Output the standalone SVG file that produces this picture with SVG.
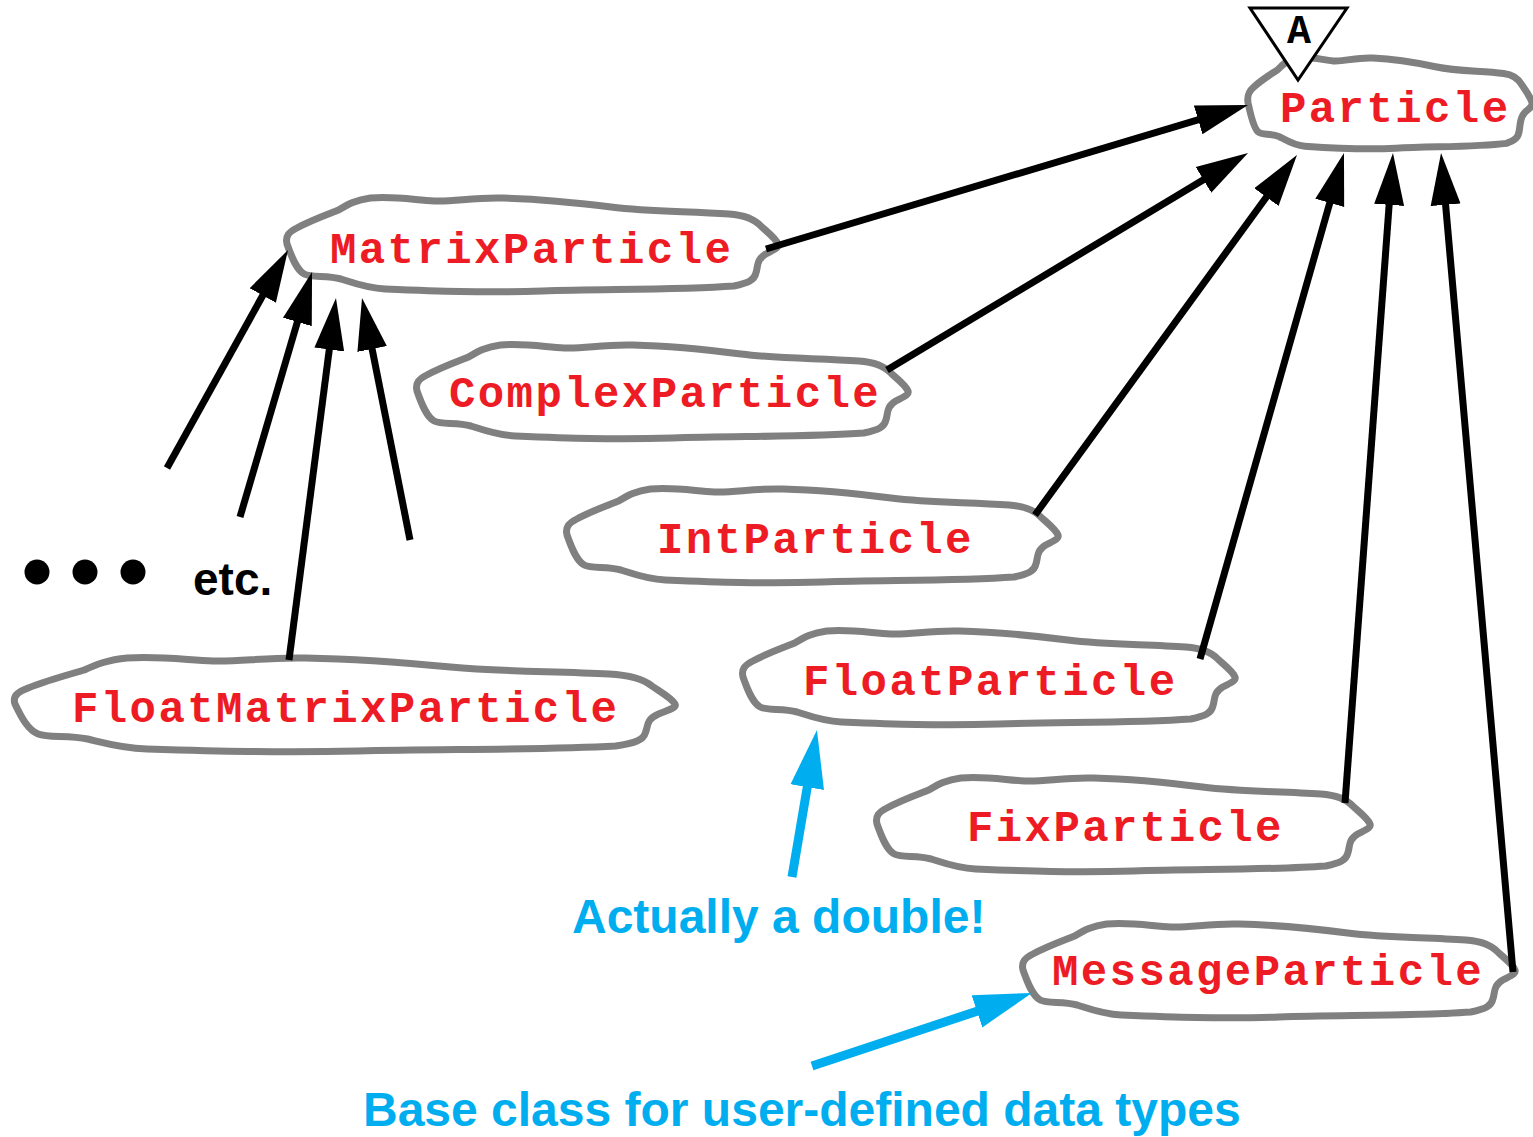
<svg xmlns="http://www.w3.org/2000/svg" xmlns:xlink="http://www.w3.org/1999/xlink" width="1533" height="1137" viewBox="0 0 1533 1137">
<style>
.cloud{fill:#fff;stroke:#808080;stroke-width:7;stroke-linejoin:round;vector-effect:non-scaling-stroke}
.lbl{font-family:"Liberation Mono","Courier New",monospace;font-weight:bold;font-size:44px;letter-spacing:2.4px;fill:#ED1C24}
.conn{stroke:#000;stroke-width:7;fill:none}
.note{stroke:#00AEEF;stroke-width:9;fill:none}
.notetxt{font-family:"Liberation Sans",Arial,sans-serif;font-weight:bold;font-size:48px;fill:#00AEEF}
</style>
<defs>
<path id="cloud" class="cloud" d="M0,46 C-4,38 4,34 20,30 C50,22 85,16 105,12 C125,6 140,2 170,0 C220,-2 260,2 300,3 C340,4 380,-1 440,0 C520,1 580,4 660,9 C740,14 820,13 900,16 C930,17 950,20 965,28 C978,34 995,40 1000,46 C1003,50 990,52 975,56 C955,62 960,68 955,75 C952,82 940,85 910,88 C800,92 650,91 520,93 C400,95 300,93 200,91 C160,90 130,84 110,81 C80,77 50,80 35,76 C20,72 10,60 0,46 Z"/>
<marker id="ah" markerUnits="userSpaceOnUse" markerWidth="60" markerHeight="40" viewBox="0 -20 60 40" refX="32" refY="0" orient="auto"><path d="M0,-15 L52,0 L0,15 Z" fill="#000"/></marker>
<marker id="bh" markerUnits="userSpaceOnUse" markerWidth="64" markerHeight="44" viewBox="0 -22 64 44" refX="38" refY="0" orient="auto"><path d="M0,-17 L58,0 L0,17 Z" fill="#00AEEF"/></marker>
</defs>

<g id="node-particle">
<use xlink:href="#cloud" transform="translate(1248,58) scale(0.284,0.97)"/>
<text class="lbl" x="1280" y="122">Particle</text>
<polygon points="1250,8 1347,8 1298,80" fill="#fff" stroke="#000" stroke-width="3"/>
<text x="1299" y="43" text-anchor="middle" style="font-family:'Liberation Mono','Courier New',monospace;font-weight:bold;font-size:40px;fill:#000">A</text>
</g>
<g id="node-matrixparticle">
<use xlink:href="#cloud" transform="translate(287,198) scale(0.491,1)"/>
<text class="lbl" x="330" y="263">MatrixParticle</text>
</g>
<g id="node-complexparticle">
<use xlink:href="#cloud" transform="translate(417,345) scale(0.491,1)"/>
<text class="lbl" x="449" y="407">ComplexParticle</text>
</g>
<g id="node-intparticle">
<use xlink:href="#cloud" transform="translate(567,489) scale(0.491,1)"/>
<text class="lbl" x="657" y="553">IntParticle</text>
</g>
<g id="node-floatparticle">
<use xlink:href="#cloud" transform="translate(743,631) scale(0.492,1)"/>
<text class="lbl" x="803" y="695">FloatParticle</text>
</g>
<g id="node-fixparticle">
<use xlink:href="#cloud" transform="translate(877,778) scale(0.493,1)"/>
<text class="lbl" x="967" y="841">FixParticle</text>
</g>
<g id="node-messageparticle">
<use xlink:href="#cloud" transform="translate(1023,924) scale(0.492,1)"/>
<text class="lbl" x="1052" y="985">MessageParticle</text>
</g>
<g id="node-floatmatrixparticle">
<use xlink:href="#cloud" transform="translate(15,658) scale(0.660,1)"/>
<text class="lbl" x="72" y="722">FloatMatrixParticle</text>
</g>

<g id="etc">
<circle cx="37" cy="572" r="12.5"/>
<circle cx="85" cy="572" r="12.5"/>
<circle cx="133" cy="572" r="12.5"/>
<text x="193" y="595" style="font-family:'Liberation Sans',Arial,sans-serif;font-weight:bold;font-size:46px;fill:#000">etc.</text>
</g>

<g id="connectors">
<line class="conn" x1="766" y1="249" x2="1228.8" y2="110.7" marker-end="url(#ah)"/>
<line class="conn" x1="887" y1="370" x2="1230.9" y2="163.3" marker-end="url(#ah)"/>
<line class="conn" x1="1035" y1="515" x2="1285.2" y2="171.2" marker-end="url(#ah)"/>
<line class="conn" x1="1200" y1="659" x2="1338.5" y2="172.2" marker-end="url(#ah)"/>
<line class="conn" x1="1345" y1="803" x2="1391.5" y2="172.9" marker-end="url(#ah)"/>
<line class="conn" x1="1513" y1="972" x2="1442.8" y2="172.9" marker-end="url(#ah)"/>
<line class="conn" x1="167" y1="468" x2="278.3" y2="267.5" marker-end="url(#ah)"/>
<line class="conn" x1="240" y1="517" x2="306.4" y2="291.2" marker-end="url(#ah)"/>
<line class="conn" x1="289" y1="660" x2="333.4" y2="317.8" marker-end="url(#ah)"/>
<line class="conn" x1="410" y1="540" x2="365.9" y2="317.6" marker-end="url(#ah)"/>
<line class="note" x1="792" y1="877" x2="813.6" y2="749.7" marker-end="url(#bh)"/>
<line class="note" x1="812" y1="1066" x2="1013" y2="999.3" marker-end="url(#bh)"/>
</g>

<g id="notes">
<text class="notetxt" x="572" y="933">Actually a double!</text>
<text class="notetxt" x="363" y="1126">Base class for user-defined data types</text>
</g>
</svg>
